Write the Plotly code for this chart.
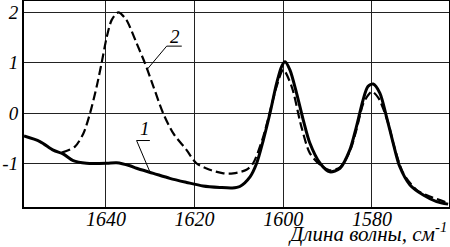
import plotly.graph_objects as go

# Curve 1 (solid)
wn1 = [1658.5, 1654.9, 1651.9, 1649.6, 1647.4, 1644.4, 1639.8, 1637.6, 1634.6, 1633.1,
       1629.3, 1625.6, 1621.8, 1618.1, 1614.3, 1611.5, 1609.8, 1607.5, 1606.0, 1604.5,
       1603.0, 1601.5, 1600.4, 1599.6, 1598.5, 1597.0, 1595.5, 1594.0, 1591.7, 1589.5,
       1587.2, 1585.0, 1583.5, 1582.0, 1580.9, 1579.7, 1578.2, 1576.7, 1575.2, 1573.7,
       1571.4, 1568.4, 1565.4, 1562.8]
a1 = [-0.45, -0.56, -0.73, -0.81, -0.94, -0.99, -0.99, -0.98, -1.04, -1.09,
      -1.19, -1.29, -1.37, -1.44, -1.47, -1.48, -1.45, -1.26, -0.99, -0.53,
      0.0, 0.59, 0.92, 1.02, 0.86, 0.40, -0.13, -0.59, -0.99, -1.16,
      -1.09, -0.73, -0.27, 0.26, 0.53, 0.58, 0.40, -0.07, -0.59, -1.06,
      -1.42, -1.62, -1.75, -1.80]

# Curve 2 (dashed)
wn2 = [1650.0, 1647.0, 1645.1, 1643.6, 1642.1, 1641.0, 1639.8, 1638.7, 1637.2, 1635.4,
       1634.6, 1633.1, 1631.2, 1629.3, 1627.1, 1624.8, 1621.8, 1619.6, 1616.6, 1613.5,
       1611.3, 1608.3, 1606.8, 1604.5, 1601.5, 1600.0, 1598.1, 1595.9, 1594.0, 1591.7,
       1589.5, 1587.2, 1585.0, 1583.5, 1582.0, 1581.0, 1580.0, 1578.5, 1576.3, 1575.0,
       1572.9, 1569.9, 1566.9, 1563.0]
a2 = [-0.78, -0.66, -0.40, 0.0, 0.53, 0.99, 1.52, 1.85, 2.0, 1.85,
      1.71, 1.39, 0.99, 0.53, 0.0, -0.40, -0.73, -0.99, -1.12, -1.19,
      -1.19, -1.12, -0.99, -0.46, 0.53, 0.86, 0.53, -0.27, -0.79, -1.02,
      -1.13, -1.07, -0.76, -0.33, 0.18, 0.34, 0.43, 0.30, -0.20, -0.65,
      -1.19, -1.52, -1.65, -1.77]

x_ticks = [1640, 1620, 1600, 1580]
y_ticks = [-1, 0, 1, 2]
y_tick_text = ["-1", "0", "1", "2"]

FONT = "Liberation Serif, Times New Roman, serif"

fig = go.Figure()
fig.add_trace(go.Scatter(x=wn1, y=a1, mode="lines", hoverinfo="skip",
                         line=dict(color="black", width=3, shape="spline", smoothing=0.8)))
fig.add_trace(go.Scatter(x=wn2, y=a2, mode="lines", hoverinfo="skip",
                         line=dict(color="black", width=2.2, dash="9px,4px", shape="spline", smoothing=0.8)))

# curve labels with leader lines
fig.add_annotation(x=1624.4, y=1.52, text="<i>2</i>", showarrow=False,
                   font=dict(family=FONT, size=19, color="black"))
fig.add_shape(type="line", x0=1626.3, y0=1.33, x1=1622.9, y1=1.33, line=dict(color="black", width=1))
fig.add_shape(type="line", x0=1626.3, y0=1.33, x1=1630.8, y1=0.86, line=dict(color="black", width=1))

fig.add_annotation(x=1631.2, y=-0.31, text="<i>1</i>", showarrow=False,
                   font=dict(family=FONT, size=19, color="black"))
fig.add_shape(type="line", x0=1633.1, y0=-0.54, x1=1630.1, y1=-0.54, line=dict(color="black", width=1))
fig.add_shape(type="line", x0=1633.1, y0=-0.54, x1=1630.1, y1=-1.16, line=dict(color="black", width=1))

# axis title
fig.add_annotation(xref="paper", yref="paper", x=1.0, y=-0.125, xanchor="right", yanchor="middle",
                   text="<i>Длина волны, см<sup>-1</sup></i>", showarrow=False,
                   font=dict(family=FONT, size=21, color="black"))

fig.update_layout(
    width=450, height=247,
    margin=dict(l=24, r=1, t=1, b=40, autoexpand=False),
    paper_bgcolor="white", plot_bgcolor="white",
    showlegend=False,
)
fig.update_xaxes(range=[1658.5, 1562.6], tickvals=x_ticks,
                 ticktext=["<i>%d</i>" % v for v in x_ticks],
                 showgrid=True, gridcolor="#222", gridwidth=1, automargin=False,
                 showline=True, linecolor="black", linewidth=2, mirror=True,
                 ticks="", zeroline=False, ticklabelstandoff=-7,
                 tickfont=dict(family=FONT, size=20, color="black"))
fig.update_yaxes(range=[-1.857, 2.224], tickvals=y_ticks,
                 ticktext=["<i>%s</i>" % t for t in y_tick_text],
                 showgrid=True, gridcolor="#222", gridwidth=1, automargin=False,
                 showline=True, linecolor="black", linewidth=2, mirror=True,
                 ticks="", zeroline=False,
                 tickfont=dict(family=FONT, size=19, color="black"))

fig.write_html("out.html", config={"displayModeBar": False, "staticPlot": True},
               post_script="document.body.style.margin='0';document.body.style.overflow='hidden';")
